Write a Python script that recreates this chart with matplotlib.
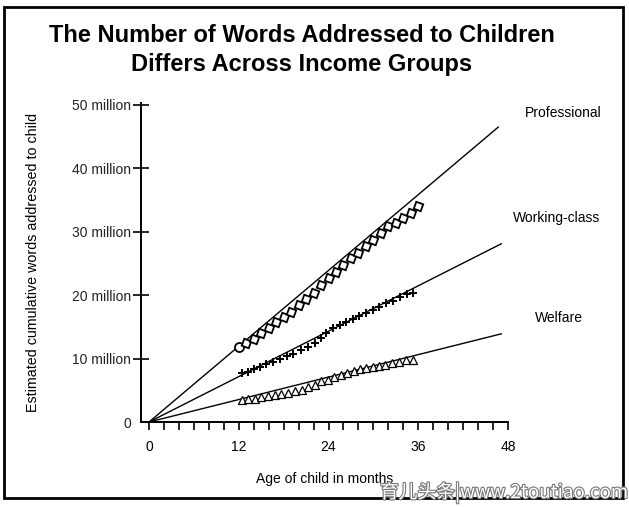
import matplotlib
matplotlib.use("Agg")
import matplotlib.pyplot as plt
import matplotlib.patheffects as pe
from matplotlib.patches import Rectangle
from matplotlib.ticker import MultipleLocator

# =========================
# DATA
# =========================

title_lines = ["The Number of Words Addressed to Children",
               "Differs Across Income Groups"]

# Professional: first point (12 months) drawn as a circle, the rest as squares
prof_months = [12, 13, 14, 15, 16, 17, 18, 19, 20, 21, 22, 23, 24, 25,
               26, 27, 28, 29, 30, 31, 32, 33, 34, 35, 36]
prof_words = [11.9, 12.4, 13.1, 14.0, 14.9, 15.7, 16.6, 17.4, 18.5, 19.4,
              20.4, 21.6, 22.7, 23.7, 24.8, 25.8, 26.7, 27.8, 28.7, 29.8,
              30.9, 31.3, 32.1, 33.0, 34.1]

work_months = [12.4, 13.2, 14.1, 14.8, 15.7, 16.6, 17.5, 18.4, 19.3, 20.3,
               21.2, 22.2, 23.0, 23.7, 24.6, 25.5, 26.4, 27.3, 28.1, 29.0,
               29.9, 30.8, 31.7, 32.6, 33.5, 34.5, 35.3]
work_words = [7.7, 7.9, 8.3, 8.7, 9.1, 9.4, 9.9, 10.4, 10.8, 11.4,
              11.9, 12.5, 13.2, 14.0, 14.8, 15.3, 15.8, 16.2, 16.7, 17.2,
              17.7, 18.2, 18.7, 19.1, 19.7, 20.2, 20.4]

welf_months = [12.4, 13.3, 14.2, 15.0, 15.9, 16.8, 17.7, 18.6, 19.5, 20.4,
               21.3, 22.2, 23.0, 23.9, 24.8, 25.7, 26.5, 27.4, 28.2, 29.0,
               29.9, 30.7, 31.6, 32.5, 33.4, 34.3, 35.3]
welf_words = [3.5, 3.6, 3.7, 3.9, 4.1, 4.3, 4.4, 4.6, 4.9, 5.0,
              5.5, 5.8, 6.4, 6.7, 7.1, 7.4, 7.8, 8.1, 8.4, 8.5,
              8.6, 8.8, 9.0, 9.3, 9.4, 9.7, 9.8]

# projection lines (start, end)
prof_fit_months = [0, 46.7]
prof_fit_words = [0, 46.5]
work_fit_months = [0, 47.1]
work_fit_words = [0, 28.1]
welf_fit_months = [0, 47.1]
welf_fit_words = [0, 13.9]

group_names = ["Professional", "Working-class", "Welfare"]
label_x = [55.4, 54.5, 54.8]
label_y = [48.8, 32.2, 16.4]

y_ticks = [0, 10, 20, 30, 40, 50]
y_labels = ["0", "10 million", "20 million", "30 million", "40 million", "50 million"]
x_ticks = [0, 12, 24, 36, 48]

# =========================
# PLOT
# =========================

plt.rcParams["font.family"] = ["Liberation Sans", "DejaVu Sans"]

fig = plt.figure(figsize=(6.29, 5.07), dpi=100)
ax = fig.add_axes([141 / 629, 1 - 422 / 507, 367 / 629, 319 / 507])

ax.plot(prof_fit_months, prof_fit_words, color="black", lw=1.0)
ax.plot(work_fit_months, work_fit_words, color="black", lw=1.0)
ax.plot(welf_fit_months, welf_fit_words, color="black", lw=1.0)

ax.plot(prof_months[:1], prof_words[:1], ls="none", marker="o", ms=6.5,
        mfc="white", mec="black", mew=1.3)
ax.plot(prof_months[1:], prof_words[1:], ls="none", marker=(4, 0, 25), ms=7.5,
        mfc="white", mec="black", mew=1.3)
ax.plot(work_months, work_words, ls="none", marker="+", ms=5.5,
        color="black", mew=1.4)
ax.plot(welf_months, welf_words, ls="none", marker="^", ms=6,
        mfc="white", mec="black", mew=0.9)

for name, xx, yy in zip(group_names, label_x, label_y):
    ax.text(xx, yy, name, ha="center", va="center", fontsize=10,
            clip_on=False)

ax.set_xlim(-1.07, 48)
ax.set_ylim(0, 50.3)

ax.spines["top"].set_visible(False)
ax.spines["right"].set_visible(False)
ax.spines["left"].set_linewidth(1.4)
ax.spines["bottom"].set_linewidth(1.4)

ax.set_yticks(y_ticks)
ax.set_yticklabels(y_labels, fontsize=10, color="#222222")
ax.tick_params(axis="y", direction="inout", length=12, width=1.2, pad=1)
ax.yaxis.get_major_ticks()[0].tick1line.set_visible(False)

ax.set_xticks(x_ticks)
ax.xaxis.set_minor_locator(MultipleLocator(2))
ax.tick_params(axis="x", which="both", direction="out", length=6, width=1.2)
ax.tick_params(axis="x", which="major", labelsize=10, pad=7)

ax.set_xlabel("Age of child in months", fontsize=10, labelpad=13)
ax.set_ylabel("Estimated cumulative words addressed to child", fontsize=10.3,
              labelpad=0)
ax.yaxis.set_label_coords(-101 / 367, 0.5)

fig.text(0.48, 1 - 35 / 507, title_lines[0], ha="center", va="center",
         fontsize=17, fontweight="bold")
fig.text(0.48, 1 - 64 / 507, title_lines[1], ha="center", va="center",
         fontsize=17, fontweight="bold")

fig.patches.append(Rectangle((4 / 629, 1 - 498 / 507), 619 / 629, 491 / 507,
                             transform=fig.transFigure, fill=False,
                             edgecolor="black", lw=2))

fig.text(380 / 629, 1 - 493 / 507, "育儿头条|www.2toutiao.com",
         ha="left", va="center", fontsize=13.5, color="white",
         family=["Noto Sans CJK SC", "DejaVu Sans"],
         path_effects=[pe.withStroke(linewidth=1.6, foreground="#777777")])

fig.savefig("out.png", dpi=100)
